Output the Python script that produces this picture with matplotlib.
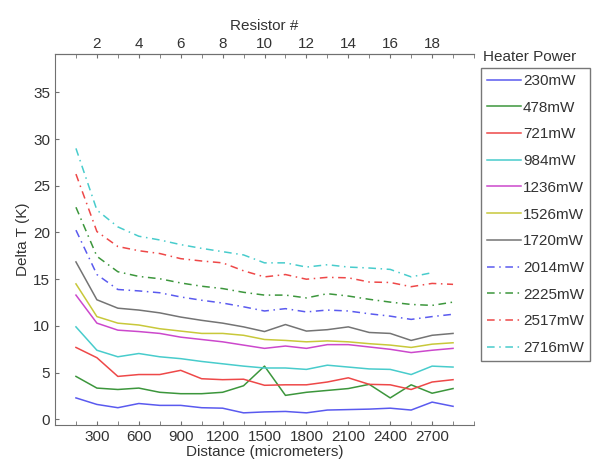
import numpy as np
import matplotlib
matplotlib.use("Agg")
import matplotlib.pyplot as plt
from matplotlib.ticker import MultipleLocator

plt.rcParams['font.family'] = ['Liberation Sans', 'DejaVu Sans']

distance = [150, 300, 450, 600, 750, 900, 1050, 1200, 1350, 1500,
            1650, 1800, 1950, 2100, 2250, 2400, 2550, 2700, 2850]

powers = ['230mW', '478mW', '721mW', '984mW', '1236mW', '1526mW',
          '1720mW', '2014mW', '2225mW', '2517mW', '2716mW']

p230 = [2.3, 1.6, 1.25, 1.7, 1.5, 1.5, 1.25, 1.2, 0.7, 0.8,
        0.85, 0.7, 1.0, 1.05, 1.1, 1.2, 1.0, 1.85, 1.4]
p478 = [4.6, 3.35, 3.2, 3.35, 2.9, 2.75, 2.75, 2.9, 3.6, 5.7,
        2.57, 2.9, 3.1, 3.3, 3.75, 2.3, 3.7, 2.8, 3.3]
p721 = [7.7, 6.6, 4.6, 4.8, 4.8, 5.25, 4.35, 4.25, 4.3, 3.65,
        3.7, 3.7, 4.0, 4.45, 3.75, 3.7, 3.2, 4.0, 4.25]
p984 = [9.9, 7.4, 6.7, 7.05, 6.7, 6.5, 6.2, 5.95, 5.7, 5.5,
        5.5, 5.35, 5.8, 5.6, 5.4, 5.35, 4.8, 5.7, 5.6]
p1236 = [13.3, 10.3, 9.55, 9.4, 9.2, 8.8, 8.55, 8.3, 7.95, 7.6,
         7.85, 7.6, 8.0, 8.0, 7.75, 7.5, 7.15, 7.4, 7.6]
p1526 = [14.5, 11.0, 10.3, 10.1, 9.7, 9.45, 9.2, 9.2, 9.0, 8.55,
         8.45, 8.3, 8.4, 8.3, 8.1, 7.95, 7.7, 8.05, 8.2]
p1720 = [16.85, 12.8, 11.9, 11.7, 11.4, 10.95, 10.6, 10.3, 9.9, 9.4,
         10.15, 9.45, 9.6, 9.9, 9.3, 9.2, 8.45, 9.0, 9.2]
p2014 = [20.25, 15.5, 13.9, 13.75, 13.55, 13.1, 12.75, 12.45, 12.05, 11.6,
         11.85, 11.5, 11.7, 11.6, 11.3, 11.05, 10.7, 11.0, 11.25]
p2225 = [22.7, 17.45, 15.8, 15.3, 15.05, 14.6, 14.25, 14.0, 13.6, 13.3,
         13.3, 13.0, 13.45, 13.2, 12.85, 12.55, 12.3, 12.2, 12.55]
p2517 = [26.25, 20.1, 18.5, 18.05, 17.75, 17.2, 16.95, 16.75, 15.9, 15.25,
         15.5, 15.0, 15.2, 15.15, 14.7, 14.65, 14.2, 14.55, 14.45]
p2716 = [29.0, 22.4, 20.6, 19.6, 19.2, 18.7, 18.3, 17.95, 17.6, 16.75,
         16.75, 16.3, 16.55, 16.3, 16.2, 16.05, 15.25, 15.7, np.nan]

series = [p230, p478, p721, p984, p1236, p1526, p1720, p2014, p2225, p2517, p2716]
colors = ['#5a5aef', '#3c963c', '#ee4848', '#48cccc', '#cc48cc', '#c8c83a', '#747474',
          '#5a5aef', '#3c963c', '#ee4848', '#48cccc']

fig = plt.figure(figsize=(5.95, 4.70), dpi=100)
ax = fig.add_axes([55 / 595, 1 - 425 / 470, 419 / 595, 371 / 470])

for i, (vals, c, lab) in enumerate(zip(series, colors, powers)):
    if i < 7:
        ax.plot(distance, vals, color=c, lw=1.1, label=lab)
    else:
        ax.plot(distance, vals, color=c, lw=1.1, label=lab, dashes=(5, 3, 1, 3))

ax.set_xlim(0, 3000)
ax.set_ylim(-0.6, 39.1)
ax.xaxis.set_minor_locator(MultipleLocator(150))
ax.set_xticks(range(300, 3000, 300))
ax.set_yticks(range(0, 40, 5))

spine_c = '#707070'
for s in ['left', 'bottom', 'top']:
    ax.spines[s].set_color(spine_c)
ax.spines['right'].set_visible(False)
ax.tick_params(which='both', direction='in', length=3, color=spine_c,
               labelsize=11, labelcolor='#333333', top=False, right=False)

ax.set_xlabel('Distance (micrometers)', fontsize=11, color='#333333', labelpad=1)
ax.set_ylabel('Delta T (K)', fontsize=11, color='#333333', labelpad=2)

ax2 = ax.twiny()
ax2.set_xlim(0, 20)
ax2.set_xticks(range(2, 20, 2))
ax2.xaxis.set_minor_locator(MultipleLocator(1))
ax2.spines['right'].set_visible(False)
ax2.spines['top'].set_color(spine_c)
ax2.spines['left'].set_visible(False)
ax2.spines['bottom'].set_visible(False)
ax2.tick_params(which='both', direction='in', length=3, color=spine_c,
                labelsize=11, labelcolor='#333333', pad=2)
ax2.set_xlabel('Resistor #', fontsize=11, color='#333333', labelpad=5)

handles, labels = ax.get_legend_handles_labels()
leg = fig.legend(handles, labels, loc='upper left', bbox_to_anchor=(481 / 595, 1 - 68 / 470),
                 fontsize=11, handlelength=2.2, handletextpad=0.15, labelspacing=0.83,
                 borderpad=0.4, borderaxespad=0, fancybox=False, framealpha=1,
                 edgecolor='#777777', labelcolor='#333333')
leg.get_frame().set_linewidth(1.0)
fig.text(483 / 595, 1 - 57 / 470, 'Heater Power', fontsize=11, color='#333333',
         ha='left', va='center')

fig.savefig('out.png', dpi=100)
